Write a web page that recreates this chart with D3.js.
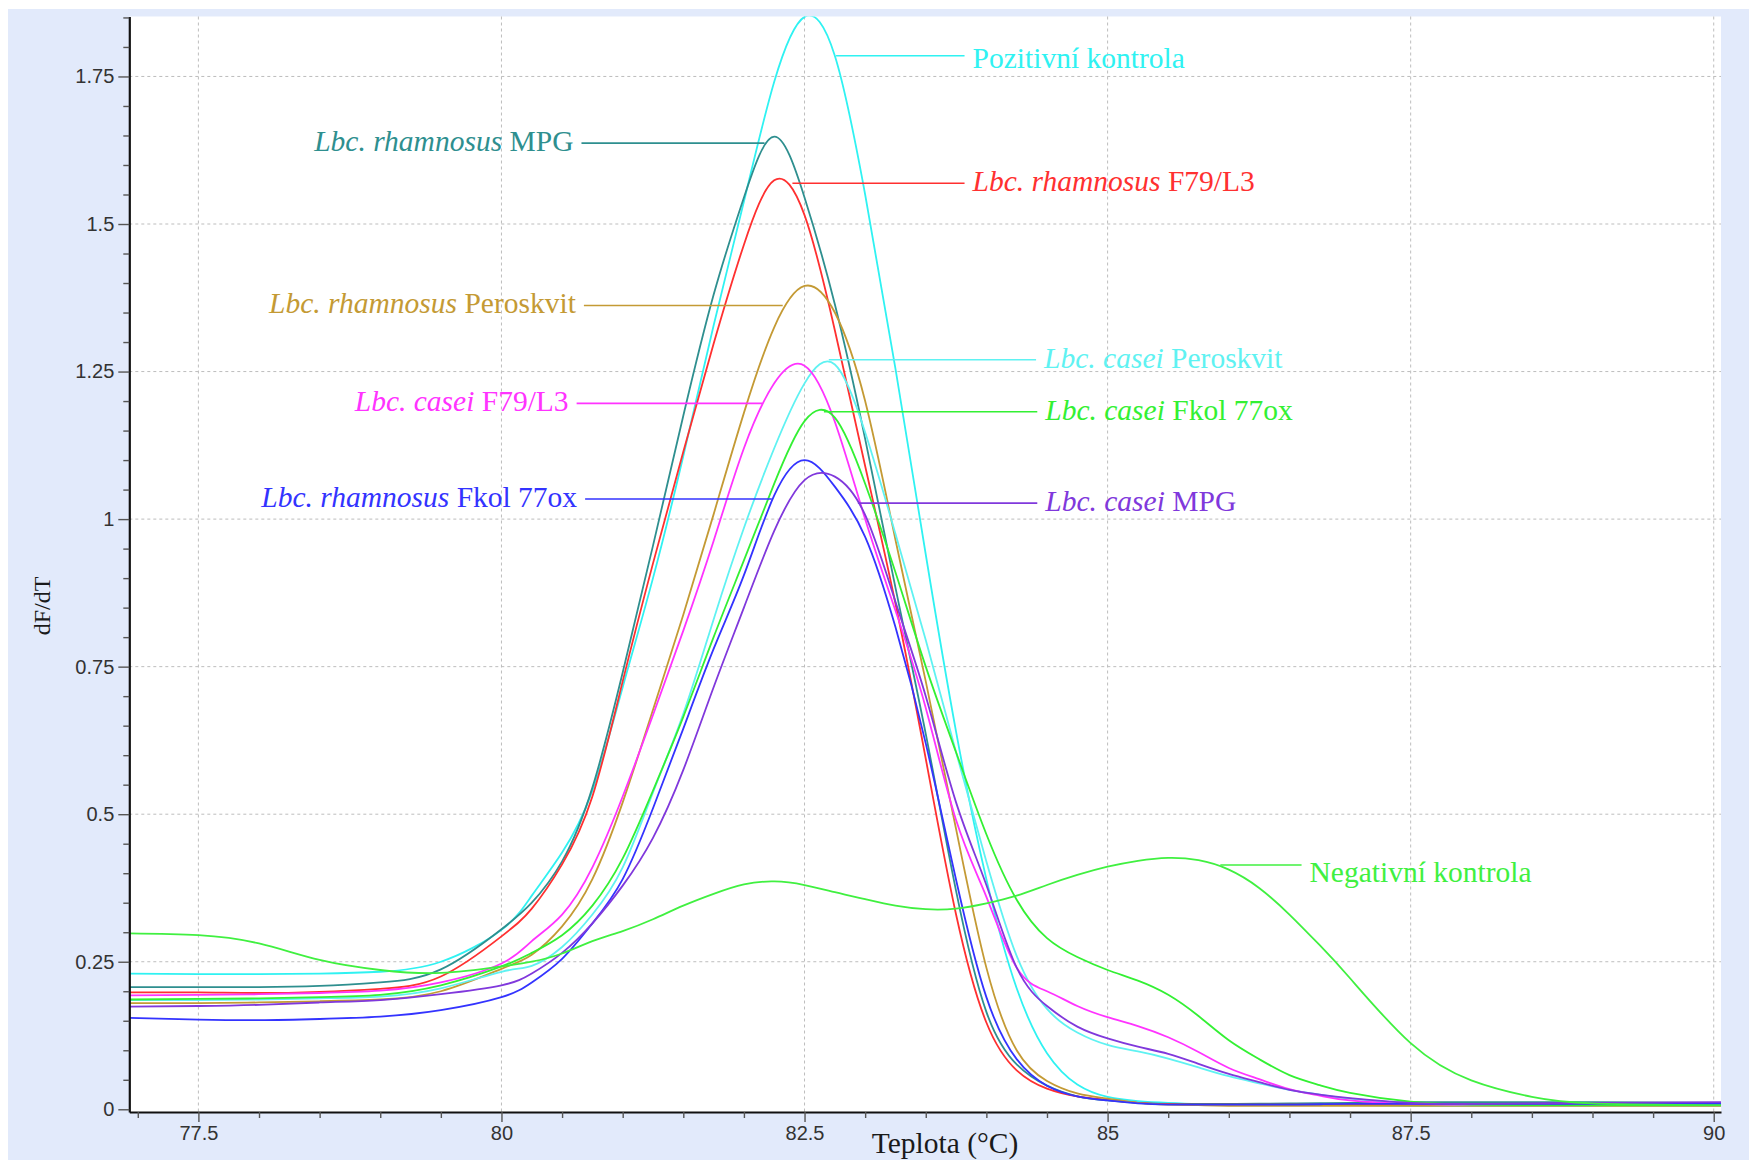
<!DOCTYPE html>
<html>
<head>
<meta charset="utf-8">
<script src="https://cdn.jsdelivr.net/npm/d3@7"></script>
<style>
  html, body { margin: 0; padding: 0; background: #fff; }
  svg { display: block; }
</style>
</head>
<body>
<svg id="chart" width="1758" height="1160"></svg>
<script>
// teplota (°C) - sample points
const teploty = [76.93, 77.5, 78, 78.5, 79, 79.5, 80, 80.25, 80.5, 80.75, 81, 81.25, 81.5, 81.75,
    82, 82.25, 82.5, 82.75, 83, 83.25, 83.5, 83.75, 84, 84.25, 84.5, 84.75, 85, 85.25, 85.5, 85.75,
    86, 86.25, 86.5, 86.75, 87, 87.5, 88, 88.5, 89, 90.06];

// dF/dT per sample
const pozitivniKontrola = [0.23, 0.229, 0.229, 0.23, 0.233, 0.25, 0.304, 0.362, 0.435, 0.54, 0.715, 0.9, 1.107, 1.328,
    1.538, 1.741, 1.851, 1.785, 1.55, 1.255, 0.94, 0.64, 0.39, 0.205, 0.095, 0.042, 0.021, 0.014, 0.011, 0.009,
    0.008, 0.0075, 0.007, 0.007, 0.007, 0.006, 0.006, 0.006, 0.006, 0.006];
const rhamnosusMPG = [0.207, 0.207, 0.207, 0.209, 0.215, 0.237, 0.305, 0.35, 0.42, 0.545, 0.74, 0.955, 1.175, 1.38,
    1.545, 1.648, 1.545, 1.364, 1.136, 0.884, 0.636, 0.37, 0.165, 0.076, 0.04, 0.022, 0.015, 0.011, 0.009, 0.009,
    0.009, 0.0095, 0.01, 0.0105, 0.011, 0.012, 0.012, 0.012, 0.012, 0.011];
const rhamnosusF79 = [0.198, 0.198, 0.197, 0.199, 0.204, 0.225, 0.293, 0.34, 0.415, 0.53, 0.725, 0.925, 1.114, 1.297,
    1.465, 1.574, 1.515, 1.32, 1.09, 0.857, 0.594, 0.33, 0.147, 0.066, 0.035, 0.022, 0.016, 0.011, 0.009, 0.008,
    0.008, 0.008, 0.008, 0.008, 0.008, 0.008, 0.008, 0.008, 0.008, 0.008];
const rhamnosusPeroskvit = [0.18, 0.18, 0.181, 0.183, 0.186, 0.2, 0.238, 0.262, 0.31, 0.39, 0.52, 0.677, 0.838, 1.008,
    1.18, 1.325, 1.395, 1.35, 1.2, 0.965, 0.725, 0.475, 0.24, 0.1, 0.048, 0.027, 0.018, 0.011, 0.008, 0.007,
    0.006, 0.006, 0.006, 0.006, 0.006, 0.006, 0.006, 0.006, 0.006, 0.006];
const caseiPeroskvit = [0.185, 0.185, 0.186, 0.188, 0.191, 0.205, 0.233, 0.243, 0.275, 0.33, 0.41, 0.537, 0.67, 0.83,
    0.985, 1.12, 1.23, 1.262, 1.147, 0.975, 0.795, 0.605, 0.42, 0.26, 0.17, 0.13, 0.109, 0.098, 0.086, 0.071,
    0.056, 0.044, 0.033, 0.025, 0.018, 0.01, 0.008, 0.008, 0.009, 0.009];
const caseiF79 = [0.193, 0.194, 0.195, 0.197, 0.201, 0.215, 0.247, 0.285, 0.33, 0.41, 0.53, 0.668, 0.811, 0.963,
    1.12, 1.23, 1.26, 1.165, 1.0, 0.845, 0.68, 0.49, 0.36, 0.24, 0.2, 0.175, 0.156, 0.141, 0.122, 0.097,
    0.07, 0.051, 0.034, 0.023, 0.015, 0.009, 0.008, 0.008, 0.009, 0.01];
const caseiFkol = [0.186, 0.187, 0.188, 0.19, 0.194, 0.21, 0.242, 0.265, 0.295, 0.345, 0.425, 0.54, 0.665, 0.8,
    0.93, 1.06, 1.166, 1.172, 1.06, 0.91, 0.75, 0.605, 0.466, 0.355, 0.29, 0.258, 0.236, 0.218, 0.194, 0.158,
    0.117, 0.085, 0.058, 0.041, 0.028, 0.013, 0.008, 0.007, 0.007, 0.007];
const rhamnosusFkol = [0.155, 0.152, 0.151, 0.153, 0.157, 0.168, 0.19, 0.215, 0.255, 0.315, 0.39, 0.51, 0.645, 0.78,
    0.905, 1.04, 1.1, 1.055, 0.97, 0.817, 0.62, 0.389, 0.19, 0.085, 0.04, 0.022, 0.015, 0.01, 0.008, 0.008,
    0.008, 0.008, 0.008, 0.0085, 0.009, 0.009, 0.009, 0.009, 0.009, 0.009];
const caseiMPG = [0.174, 0.175, 0.177, 0.181, 0.185, 0.195, 0.21, 0.23, 0.265, 0.315, 0.379, 0.46, 0.575, 0.715,
    0.85, 0.98, 1.066, 1.072, 1.007, 0.86, 0.7, 0.52, 0.38, 0.24, 0.175, 0.14, 0.12, 0.106, 0.094, 0.077,
    0.06, 0.046, 0.033, 0.025, 0.019, 0.011, 0.009, 0.01, 0.011, 0.012];
const negativniKontrola = [0.298, 0.295, 0.281, 0.253, 0.236, 0.231, 0.242, 0.25, 0.264, 0.285, 0.302, 0.322, 0.345, 0.365,
    0.381, 0.386, 0.38, 0.368, 0.356, 0.345, 0.339, 0.34, 0.349, 0.362, 0.38, 0.397, 0.411, 0.421, 0.426, 0.422,
    0.406, 0.375, 0.33, 0.278, 0.222, 0.112, 0.049, 0.021, 0.01, 0.007];

// label text: italic species + plain strain
const labelSpecies = ["", "Lbc. rhamnosus", "Lbc. rhamnosus", "Lbc. rhamnosus", "Lbc. casei",
    "Lbc. casei", "Lbc. casei", "Lbc. rhamnosus", "Lbc. casei", ""];
const labelStrain = ["Pozitivní kontrola", "MPG", "F79/L3", "Peroskvit", "Peroskvit",
    "F79/L3", "Fkol 77ox", "Fkol 77ox", "MPG", "Negativní kontrola"];
// where each leader touches its curve (°C, dF/dT), where it ends (°C), and the text's level
const leaderT = [82.76, 82.17, 82.40, 82.32, 82.70, 82.15, 82.66, 82.23, 82.94, 85.93];
const leaderV = [1.785, 1.637, 1.569, 1.362, 1.270, 1.196, 1.182, 1.034, 1.027, 0.414];
const leaderEndT = [83.82, 80.66, 83.82, 80.68, 84.41, 80.62, 84.42, 80.69, 84.42, 86.6];
const labelTextV = [1.781, 1.641, 1.573, 1.366, 1.274, 1.2, 1.186, 1.038, 1.031, 0.403];

const xTicks = [77.5, 80, 82.5, 85, 87.5, 90];
const yTicks = [0, 0.25, 0.5, 0.75, 1, 1.25, 1.5, 1.75];

const colors = ["#2ff2f2", "#2e8f8f", "#ff3030", "#c49a34", "#5ff2f2",
    "#ff33ff", "#33f033", "#3333ff", "#8038dc", "#40f040"];

const seriesValues = [pozitivniKontrola, rhamnosusMPG, rhamnosusF79, rhamnosusPeroskvit, caseiPeroskvit,
    caseiF79, caseiFkol, rhamnosusFkol, caseiMPG, negativniKontrola];

const series = seriesValues.map((vals, i) => ({
    id: i,
    color: colors[i],
    points: vals.map((v, j) => [teploty[j], v])
}));

const svg = d3.select("#chart");
const plot = { left: 129.3, right: 1721, top: 16.5, bottom: 1112 };

const x = d3.scaleLinear().domain([76.93, 90.06]).range([plot.left, plot.right]);
const y = d3.scaleLinear().domain([-0.0046, 1.8516]).range([plot.bottom, plot.top]);

// backgrounds
svg.append("rect").attr("x", 8).attr("y", 9).attr("width", 1741).attr("height", 1151).attr("fill", "#e2eafb");
svg.append("rect")
    .attr("x", plot.left).attr("y", plot.top)
    .attr("width", plot.right - plot.left).attr("height", plot.bottom - plot.top)
    .attr("fill", "#fff");

svg.append("clipPath").attr("id", "clip")
    .append("rect")
    .attr("x", plot.left).attr("y", plot.top)
    .attr("width", plot.right - plot.left).attr("height", plot.bottom - plot.top);

// grid
const grid = svg.append("g").attr("stroke", "#bdbdbd").attr("stroke-width", 1).attr("stroke-dasharray", "3,3");
grid.selectAll(".vg").data(xTicks).enter().append("line")
    .attr("x1", d => x(d)).attr("x2", d => x(d))
    .attr("y1", plot.top).attr("y2", plot.bottom);
grid.selectAll(".hg").data(yTicks.filter(d => d > 0)).enter().append("line")
    .attr("x1", plot.left).attr("x2", plot.right)
    .attr("y1", d => y(d)).attr("y2", d => y(d));

// curves
const line = d3.line()
    .x(d => x(d[0]))
    .y(d => y(d[1]))
    .curve(d3.curveNatural);

svg.append("g").attr("clip-path", "url(#clip)")
    .selectAll("path").data(series, d => d.id)
    .enter().append("path")
    .attr("d", d => line(d.points))
    .attr("fill", "none")
    .attr("stroke", d => d.color)
    .attr("stroke-width", 1.8);

// axes
const xMinor = d3.range(0, 27).map(i => 77 + i * 0.5).filter(d => !xTicks.includes(d));
const yMinor = d3.range(1, 38).filter(i => i % 5 !== 0).map(i => i * 0.05);

const xAxis = svg.append("g").attr("transform", `translate(0,${plot.bottom})`)
    .call(d3.axisBottom(x).tickValues(xTicks).tickSize(10).tickSizeOuter(0).tickPadding(4).tickFormat(d => d));
svg.append("g").attr("transform", `translate(0,${plot.bottom})`)
    .call(d3.axisBottom(x).tickValues(xMinor).tickSize(6).tickSizeOuter(0).tickFormat(""))
    .call(g => g.select(".domain").remove());

const yAxis = svg.append("g").attr("transform", `translate(${plot.left},0)`)
    .call(d3.axisLeft(y).tickValues(yTicks).tickSize(11).tickSizeOuter(0).tickPadding(4).tickFormat(d => d));
svg.append("g").attr("transform", `translate(${plot.left},0)`)
    .call(d3.axisLeft(y).tickValues(yMinor).tickSize(6).tickSizeOuter(0).tickFormat(""))
    .call(g => g.select(".domain").remove());

svg.selectAll(".tick line").attr("stroke", "#555").attr("stroke-width", 1.4);
svg.selectAll(".tick text")
    .attr("fill", "#333")
    .style("font-family", "'Liberation Sans', Arial, sans-serif")
    .style("font-size", "20px");
[xAxis, yAxis].forEach(g => g.select(".domain").attr("stroke", "#111").attr("stroke-width", 2.2));

// axis titles
svg.append("text")
    .attr("x", 945).attr("y", 1153)
    .attr("text-anchor", "middle")
    .attr("fill", "#1a1a1a")
    .style("font-family", "'Liberation Serif', 'Times New Roman', serif")
    .style("font-size", "29.5px")
    .text("Teplota (°C)");

svg.append("text")
    .attr("transform", "translate(50,606) rotate(-90)")
    .attr("text-anchor", "middle")
    .attr("fill", "#1a1a1a")
    .style("font-family", "'Liberation Serif', 'Times New Roman', serif")
    .style("font-size", "24px")
    .text("dF/dT");

// labels with leader lines
const labels = labelStrain.map((s, i) => ({
    species: labelSpecies[i],
    strain: s,
    color: colors[i],
    t0: leaderT[i],
    v: leaderV[i],
    t1: leaderEndT[i],
    tv: labelTextV[i],
    left: leaderEndT[i] < leaderT[i]
}));

const lab = svg.append("g").selectAll("g").data(labels).enter().append("g");

lab.append("line")
    .attr("x1", d => x(d.t0)).attr("x2", d => x(d.t1))
    .attr("y1", d => y(d.v)).attr("y2", d => y(d.v))
    .attr("stroke", d => d.color)
    .attr("stroke-width", 1.6);

const txt = lab.append("text")
    .attr("x", d => x(d.t1) + (d.left ? -8 : 8))
    .attr("y", d => y(d.tv))
    .attr("dy", "0.35em")
    .attr("text-anchor", d => d.left ? "end" : "start")
    .attr("fill", d => d.color)
    .style("font-family", "'Liberation Serif', 'Times New Roman', serif")
    .style("font-size", "29.5px");

txt.filter(d => d.species !== "").append("tspan")
    .style("font-style", "italic")
    .text(d => d.species + " ");
txt.append("tspan").text(d => d.strain);
</script>
</body>
</html>
